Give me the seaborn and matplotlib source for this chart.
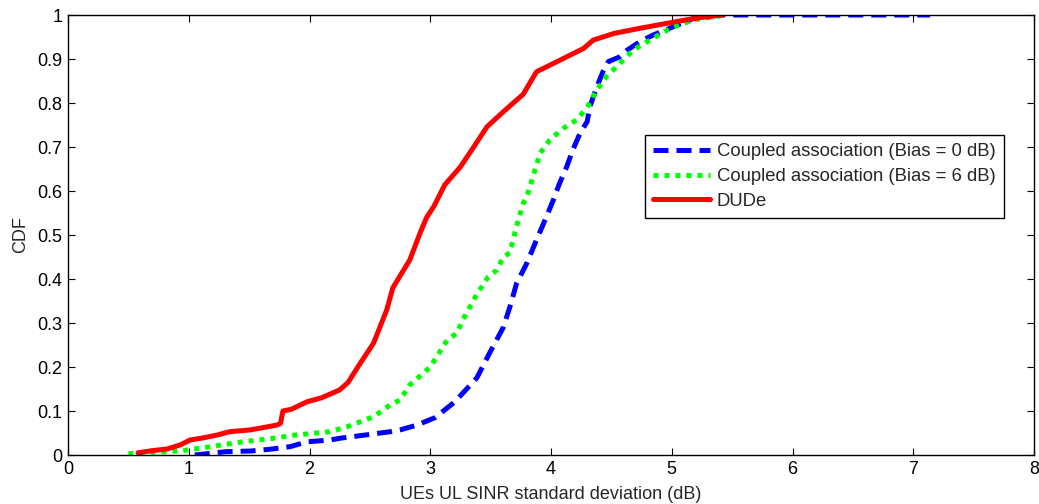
import matplotlib
matplotlib.use("Agg")
import matplotlib.pyplot as plt
import seaborn as sns
import pandas as pd

# ---- data ----
dude_x = [0.58, 0.70, 0.82, 0.93, 1.01, 1.10, 1.23, 1.34, 1.51, 1.73, 1.76, 1.78, 1.85, 1.98, 2.10, 2.25,
          2.32, 2.40, 2.53, 2.64, 2.69, 2.83, 2.915, 2.97, 3.03, 3.12, 3.25, 3.36, 3.47, 3.605, 3.77,
          3.88, 4.05, 4.27, 4.35, 4.52, 4.74, 4.96, 5.18, 5.42]
dude_y = [0.005, 0.01, 0.0136, 0.023, 0.034, 0.038, 0.045, 0.053, 0.057, 0.068, 0.072, 0.100, 0.104, 0.121,
          0.13, 0.148, 0.165, 0.20, 0.254, 0.33, 0.38, 0.443, 0.504, 0.54, 0.565, 0.614, 0.655, 0.70,
          0.746, 0.78, 0.82, 0.871, 0.894, 0.924, 0.943, 0.958, 0.97, 0.981, 0.992, 1.0]

b0_x = [1.05, 1.31, 1.51, 1.67, 1.84, 1.98, 2.17, 2.25, 2.45, 2.67, 2.75, 2.89, 3.04, 3.20, 3.385, 3.49,
        3.605, 3.66, 3.715, 3.80, 3.88, 3.96, 4.02, 4.07, 4.13, 4.18, 4.24, 4.30, 4.32, 4.38, 4.43,
        4.475, 4.57, 4.63, 4.74, 4.85, 5.01, 5.18, 5.35, 7.14]
b0_y = [0.0, 0.0076, 0.009, 0.013, 0.019, 0.03, 0.034, 0.038, 0.045, 0.053, 0.057, 0.068, 0.085, 0.12,
        0.175, 0.231, 0.29, 0.337, 0.39, 0.436, 0.489, 0.54, 0.58, 0.617, 0.655, 0.693, 0.731, 0.758,
        0.79, 0.837, 0.871, 0.894, 0.905, 0.92, 0.94, 0.955, 0.973, 0.992, 1.0, 1.0]

b6_x = [0.50, 0.82, 0.98, 1.18, 1.45, 1.70, 1.87, 2.17, 2.31, 2.53, 2.67, 2.75, 2.83, 3.00, 3.14, 3.22,
        3.27, 3.385, 3.48, 3.55, 3.605, 3.66, 3.715, 3.77, 3.80, 3.85, 3.91, 3.99, 4.10, 4.21, 4.30,
        4.38, 4.46, 4.57, 4.68, 4.82, 4.99, 5.18, 5.45]
b6_y = [0.003, 0.0076, 0.011, 0.019, 0.03, 0.038, 0.045, 0.053, 0.064, 0.087, 0.114, 0.125, 0.159, 0.20,
        0.261, 0.277, 0.307, 0.365, 0.405, 0.42, 0.45, 0.46, 0.52, 0.572, 0.587, 0.632, 0.686, 0.716,
        0.742, 0.761, 0.79, 0.83, 0.86, 0.89, 0.92, 0.943, 0.97, 0.989, 1.0]

labels = ["Coupled association (Bias = 0 dB)", "Coupled association (Bias = 6 dB)", "DUDe"]
x_ticks = [0, 1, 2, 3, 4, 5, 6, 7, 8]
y_ticks = [0, 0.1, 0.2, 0.3, 0.4, 0.5, 0.6, 0.7, 0.8, 0.9, 1]
y_tick_labels = ["0", "0.1", "0.2", "0.3", "0.4", "0.5", "0.6", "0.7", "0.8", "0.9", "1"]

# ---- style ----
sns.set_style("ticks")
plt.rcParams["font.family"] = ["Liberation Sans", "DejaVu Sans"]
plt.rcParams["xtick.direction"] = "in"
plt.rcParams["ytick.direction"] = "in"

FS = 13

fig = plt.figure(figsize=(10.39, 5.04), dpi=100)
ax = fig.add_axes([68 / 1039, 1 - 455 / 504, (1034 - 68) / 1039, (455 - 15) / 504])

lw = 3.6
series = [
    (b0_x, b0_y, "#0000ff", (0, (3.0, 1.6)), labels[0]),
    (b6_x, b6_y, "#00ff00", (0, (1.0, 1.2)), labels[1]),
    (dude_x, dude_y, "#ff0000", "-", labels[2]),
]
for xs, ys, col, ls, lab in series:
    df = pd.DataFrame({"x": xs, "y": ys})
    sns.lineplot(data=df, x="x", y="y", ax=ax, color=col, linewidth=lw,
                 estimator=None, sort=False, label=lab)
    ax.lines[-1].set_linestyle(ls)

ax.set_xlim(0, 8)
ax.set_ylim(0, 1)
ax.set_xticks(x_ticks)
ax.set_xticklabels([str(t) for t in x_ticks])
ax.set_yticks(y_ticks)
ax.set_yticklabels(y_tick_labels)
ax.tick_params(axis="both", which="both", direction="in", length=5, width=0.8,
               top=True, right=True, labelsize=FS, colors="black", pad=4)
for s in ax.spines.values():
    s.set_visible(True)
    s.set_color("black")
    s.set_linewidth(1.0)

ax.set_xlabel("UEs UL SINR standard deviation (dB)", fontsize=FS, labelpad=6)
ax.set_ylabel("CDF", fontsize=FS, labelpad=6)

leg = ax.legend(loc="upper left", bbox_to_anchor=(0.597, 0.727), fontsize=13.3,
                frameon=True, fancybox=False, framealpha=1, edgecolor="black",
                handlelength=3.1, borderpad=0.45, labelspacing=0.42, handletextpad=0.35,
                borderaxespad=0)
leg.get_frame().set_linewidth(1.0)

fig.savefig("out.png", dpi=100, facecolor="white")
